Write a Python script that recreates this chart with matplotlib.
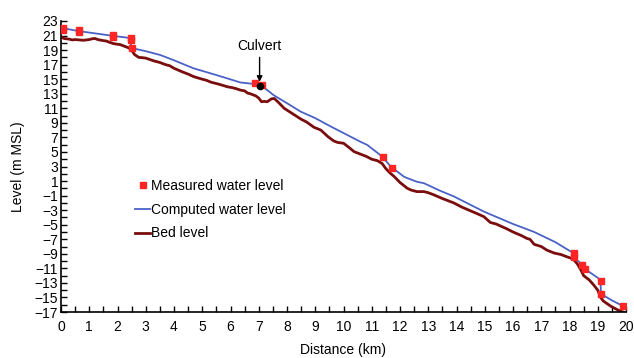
import matplotlib
matplotlib.use("Agg")
import matplotlib.pyplot as plt
from matplotlib.ticker import MultipleLocator

plt.rcParams['font.family'] = ['Liberation Sans', 'DejaVu Sans']

# measured water levels (km, m MSL)
meas_x = [0.08, 0.08, 0.65, 0.65, 1.85, 1.85, 2.48, 2.48, 2.5, 6.88, 7.12,
          11.4, 11.73, 18.17, 18.17, 18.46, 18.55, 19.1, 19.1, 19.88]
meas_y = [22.1, 21.8, 21.75, 21.45, 21.05, 20.75, 20.7, 20.45, 19.3, 14.44, 14.2,
          4.28, 2.77, -8.9, -9.5, -10.5, -11.1, -12.7, -14.5, -16.15]

# computed water surface profile
comp_x = [0, 0.65, 1.85, 2.47, 2.48, 3.0, 3.51, 4.0, 4.69, 5.3, 5.87, 6.35, 6.7,
          6.94, 7.2, 7.53, 8.0, 8.48, 9.0, 9.5, 9.9, 10.6, 10.84, 11.37,
          11.67, 12.14, 12.26, 12.6, 12.85, 13.4, 13.9, 14.97, 16.0, 16.75, 17.5,
          18.05, 18.17, 18.18, 18.46, 18.55, 19.0, 19.1, 19.11, 19.5, 19.88]
comp_y = [22.05, 21.6, 20.95, 20.65, 19.3, 18.85, 18.33, 17.6, 16.5, 15.8, 15.13,
          14.55, 14.4, 14.3, 13.8, 12.8, 11.7, 10.55, 9.65, 8.6, 7.8, 6.4, 5.97,
          4.37, 3.0, 1.6, 1.4, 0.9, 0.7, -0.3, -1.1, -3.2, -4.9, -6.0, -7.4,
          -8.7, -8.9, -9.6, -10.5, -11.1, -12.3, -12.7, -14.5, -15.4, -16.15]

# surveyed bed profile
bed_x = [0, 0.1, 0.2, 0.3, 0.4, 0.5, 0.65, 0.8, 0.9, 1.0, 1.1, 1.2, 1.3, 1.5, 1.6,
         1.7, 1.85, 2.0, 2.1, 2.2, 2.4, 2.5, 2.6, 2.75, 2.9, 3.0, 3.15, 3.3, 3.5,
         3.7, 3.85, 4.0, 4.3, 4.5, 4.7, 5.0, 5.15, 5.3, 5.6, 5.9, 6.05, 6.2, 6.35,
         6.5, 6.6, 6.7, 6.9, 7.0, 7.1, 7.2, 7.3, 7.45, 7.55, 7.7, 7.9, 8.1, 8.3,
         8.5, 8.7, 8.95, 9.2, 9.45, 9.66, 9.8, 10.0, 10.2, 10.37, 10.6, 10.8, 11.0,
         11.2, 11.37, 11.5, 11.65, 11.8, 12.0, 12.26, 12.4, 12.6, 12.85, 13.0,
         13.2, 13.5, 13.9, 14.2, 14.5, 14.8, 14.97, 15.2, 15.4, 15.57, 15.8, 16.0,
         16.3, 16.5, 16.6, 16.75, 17.0, 17.2, 17.46, 17.7, 17.9, 18.05, 18.17,
         18.28, 18.4, 18.5, 18.7, 18.86, 19.0, 19.1, 19.2, 19.46, 19.7, 19.82, 19.9]
bed_y = [20.85, 20.6, 20.55, 20.5, 20.4, 20.45, 20.4, 20.35, 20.4, 20.45, 20.55,
         20.6, 20.45, 20.3, 20.25, 20.1, 19.9, 19.8, 19.75, 19.6, 19.3, 19.0, 18.4,
         18.0, 17.95, 17.9, 17.7, 17.5, 17.3, 17.0, 16.85, 16.5, 16.0, 15.7, 15.35,
         15.0, 14.85, 14.6, 14.3, 13.95, 13.85, 13.7, 13.5, 13.4, 13.1, 13.0, 12.7,
         12.4, 11.9, 11.95, 11.9, 12.3, 12.35, 11.8, 11.0, 10.5, 10.0, 9.5, 9.1,
         8.4, 8.0, 7.1, 6.5, 6.3, 6.2, 5.6, 5.05, 4.7, 4.4, 4.0, 3.8, 3.4, 2.7, 2.1,
         1.6, 0.8, 0.0, -0.25, -0.45, -0.45, -0.6, -0.9, -1.4, -2.0, -2.6, -3.1,
         -3.6, -3.9, -4.7, -4.9, -5.2, -5.6, -6.0, -6.5, -6.9, -7.0, -7.7, -8.0,
         -8.5, -8.9, -9.1, -9.4, -9.6, -9.9, -10.4, -11.2, -12.0, -12.6, -13.3,
         -14.0, -15.0, -15.5, -16.2, -16.7, -16.9, -17.0]

culvert = (7.03, 14.07)

fig = plt.figure(figsize=(6.34, 3.58), dpi=100)
ax = fig.add_axes([61 / 634, 1 - 312 / 358, 565 / 634, 291 / 358])

ax.plot(bed_x, bed_y, color='#7a0d0d', linewidth=2.0, label='Bed level', zorder=2)
ax.plot(comp_x, comp_y, color='#4a62c8', linewidth=1.3, label='Computed water level', zorder=3)
ax.plot(meas_x, meas_y, 's', color='#ff2525', markersize=3.8, linestyle='none',
        label='Measured water level', zorder=4)
ax.plot(*culvert, 'o', color='black', markersize=4.5, zorder=5)
ax.annotate('Culvert', xy=culvert, xytext=(culvert[0], culvert[1] + 4.5),
            ha='center', va='bottom', fontsize=10,
            arrowprops=dict(arrowstyle='-|>', color='black', lw=1.0,
                            shrinkA=1, shrinkB=3, mutation_scale=8))

ax.set_xlim(0, 20)
ax.set_ylim(-17, 23)
ax.xaxis.set_major_locator(MultipleLocator(1))
ax.xaxis.set_minor_locator(MultipleLocator(0.5))
ax.yaxis.set_minor_locator(MultipleLocator(1))
ax.set_yticks(range(-17, 24, 2))
ax.tick_params(which='both', direction='in', length=4, width=1, labelsize=10)
ax.tick_params(axis='x', pad=6)
ax.tick_params(axis='y', pad=2)
for s in ['top', 'right']:
    ax.spines[s].set_visible(False)
for s in ['left', 'bottom']:
    ax.spines[s].set_linewidth(1.2)

ax.set_xlabel('Distance (km)', fontsize=10, labelpad=6)
ax.set_ylabel('Level (m MSL)', fontsize=10, labelpad=7)

h, l = ax.get_legend_handles_labels()
ax.legend(h[::-1], l[::-1], loc='upper left', frameon=False, fontsize=10,
          bbox_to_anchor=(128 / 634, 1 - 172 / 358), bbox_transform=fig.transFigure,
          borderpad=0, handlelength=1.1, handletextpad=0.05, labelspacing=0.7)

fig.savefig('out.png', dpi=100)
